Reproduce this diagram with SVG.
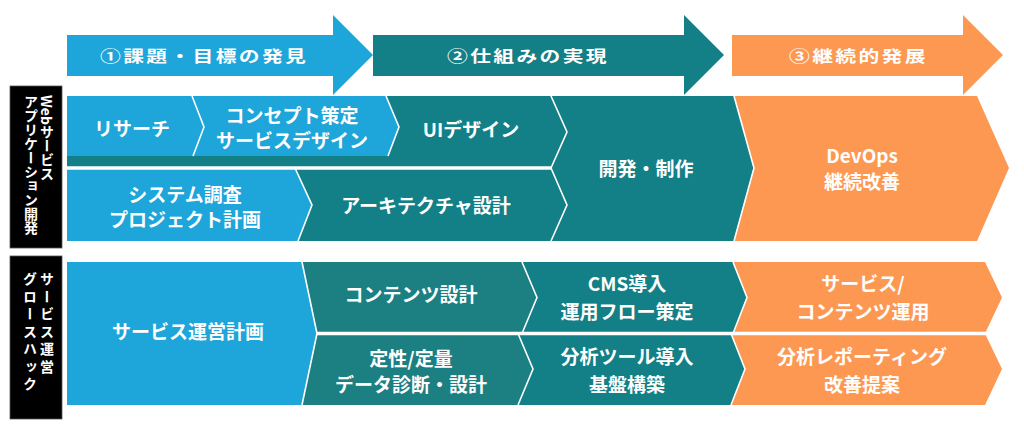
<svg xmlns="http://www.w3.org/2000/svg" width="1024" height="430" viewBox="0 0 1024 430">
<style>
.blue{fill:#1EA5DA}
.teal{fill:#137F86}
.teal2{fill:#1C7F82}
.orange{fill:#FD9853}
.lbl{fill:#fff;font-family:"Noto Sans CJK JP","Noto Sans",sans-serif;font-weight:700;font-size:19px;text-anchor:middle;dominant-baseline:central}
.hdr{fill:#fff;font-family:"Noto Sans CJK JP","Noto Sans",sans-serif;font-weight:700;font-size:16px;letter-spacing:1.8px;dominant-baseline:central}
.side{fill:#000;stroke:#555;stroke-width:0.8}
.vt{fill:#fff;font-family:"Noto Sans CJK JP","Noto Sans",sans-serif;font-weight:700;font-size:14px;writing-mode:vertical-rl}
.div{fill:none;stroke:#fff;stroke-width:1.6;stroke-linejoin:miter}
.gap{stroke:#fff;stroke-width:3.5}
</style>
<rect width="1024" height="430" fill="#fff"/>

<g id="phase1">
<polygon class="blue" points="67,35 333,35 333,15 373,55 333,95 333,76 67,76"/>
<text class="hdr" transform="translate(100,55) scale(1.3,1)">①課題・目標の発見</text>
</g>
<g id="phase2">
<polygon class="teal" points="373,35 684,35 684,15 724,55 684,95 684,76 373,76"/>
<text class="hdr" transform="translate(447,55) scale(1.3,1)">②仕組みの実現</text>
</g>
<g id="phase3">
<polygon class="orange" points="732,35 963,35 963,15 1003,55 963,95 963,76 732,76"/>
<text class="hdr" transform="translate(789,55) scale(1.3,1)">③継続的発展</text>
</g>

<g id="label-web">
<rect class="side" x="10" y="86" width="52" height="162"/>
<text class="vt" x="47" y="95">Webサービス</text>
<text class="vt" x="31" y="95">アプリケーション開発</text>
</g>
<g id="label-growth">
<rect class="side" x="10" y="256" width="52" height="163"/>
<text class="vt" x="47" y="272" style="letter-spacing:3.5px">サービス運営</text>
<text class="vt" x="30" y="272" style="letter-spacing:3.5px">グロースハック</text>
</g>

<g id="ui-design">
<polygon class="teal" points="67,96 551,96 567,132 551,168 67,168"/>
<text class="lbl" x="471" y="128">UIデザイン</text>
</g>
<g id="research">
<polygon class="blue" points="67,96 192,96 204,127 193,156 67,156"/>
<text class="lbl" x="132" y="127">リサーチ</text>
</g>
<g id="concept">
<polygon class="blue" points="192,96 386,96 399,127 388,156 193,156 204,127"/>
<text class="lbl" x="292" y="114">コンセプト策定</text>
<text class="lbl" x="292" y="139">サービスデザイン</text>
</g>
<g id="architecture">
<polygon class="teal" points="67,168 551,168 567,205 551,241 67,241"/>
<text class="lbl" x="426" y="204">アーキテクチャ設計</text>
</g>
<g id="system-survey">
<polygon class="blue" points="67,168 295,168 312,205 298,241 67,241"/>
<text class="lbl" x="185" y="193">システム調査</text>
<text class="lbl" x="185" y="218">プロジェクト計画</text>
</g>
<g id="development">
<polygon class="teal" points="551,96 734,96 754,168 734,241 551,241 567,205 551,168 567,132"/>
<text class="lbl" x="646" y="167">開発・制作</text>
</g>
<g id="devops">
<polygon class="orange" points="734,96 977,96 1009,168 977,241 734,241 754,168"/>
<text class="lbl" x="862" y="154">DevOps</text>
<text class="lbl" x="862" y="180">継続改善</text>
</g>

<g id="service-plan">
<polygon class="blue" points="67,262 302,262 317,333.5 302,405 67,405"/>
<text class="lbl" x="188" y="330">サービス運営計画</text>
</g>
<g id="content-design">
<polygon class="teal2" points="302,262 522,262 537,297.5 522,333.5 317,333.5"/>
<text class="lbl" x="411" y="293">コンテンツ設計</text>
</g>
<g id="data-diagnosis">
<polygon class="teal2" points="317,333.5 518,333.5 533,369 518,405 302,405"/>
<text class="lbl" x="411" y="357">定性/定量</text>
<text class="lbl" x="411" y="383">データ診断・設計</text>
</g>
<g id="cms">
<polygon class="teal" points="522,262 733,262 747,297.5 733,333.5 522,333.5 537,297.5"/>
<text class="lbl" x="627" y="282">CMS導入</text>
<text class="lbl" x="627" y="310">運用フロー策定</text>
</g>
<g id="analytics-tools">
<polygon class="teal" points="518,333.5 731,333.5 745,369 731,405 518,405 533,369"/>
<text class="lbl" x="627" y="355">分析ツール導入</text>
<text class="lbl" x="627" y="383">基盤構築</text>
</g>
<g id="operation">
<polygon class="orange" points="733,262 985,262 1002,297.5 985,333.5 733,333.5 747,297.5"/>
<text class="lbl" x="863" y="282">サービス/</text>
<text class="lbl" x="863" y="310">コンテンツ運用</text>
</g>
<g id="reporting">
<polygon class="orange" points="731,333.5 985,333.5 1002,369 985,405 731,405 745,369"/>
<text class="lbl" x="862" y="355">分析レポーティング</text>
<text class="lbl" x="862" y="383">改善提案</text>
</g>

<g id="connectors">
<line class="gap" x1="67" y1="168" x2="551" y2="168"/>
<line class="gap" x1="317" y1="333.5" x2="1002" y2="333.5"/>
<polyline class="div" points="192,96 204,127 193,156"/>
<polyline class="div" points="386,96 399,127 388,156"/>
<polyline class="div" points="295,168 312,205 298,241"/>
<polyline class="div" points="551,96 567,132 551,168 567,205 551,241"/>
<polyline class="div" points="734,96 754,168 734,241"/>
<polyline class="div" points="302,262 317,333.5 302,405"/>
<polyline class="div" points="522,262 537,297.5 522,333.5"/>
<polyline class="div" points="518,333.5 533,369 518,405"/>
<polyline class="div" points="733,262 747,297.5 733,333.5"/>
<polyline class="div" points="731,333.5 745,369 731,405"/>
</g>
</svg>
